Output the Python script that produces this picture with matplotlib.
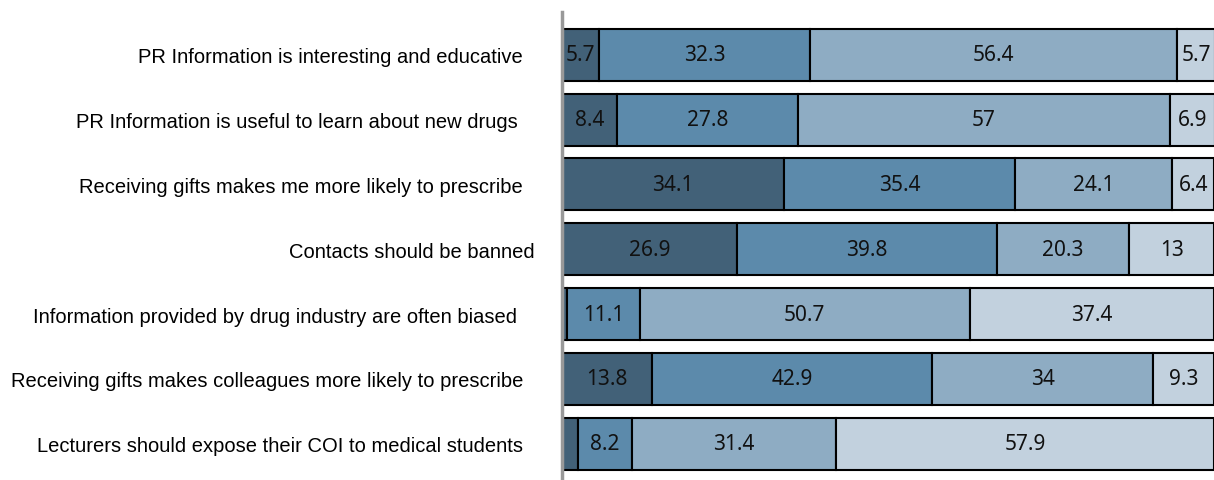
import matplotlib
matplotlib.use("Agg")
import matplotlib.pyplot as plt
import numpy as np

categories = [
    "PR Information is interesting and educative  ",
    "PR Information is useful to learn about new drugs   ",
    "Receiving gifts makes me more likely to prescribe  ",
    "Contacts should be banned",
    "Information provided by drug industry are often biased   ",
    "Receiving gifts makes colleagues more likely to prescribe  ",
    "Lecturers should expose their COI to medical students  ",
]
s1 = [5.7, 8.4, 34.1, 26.9, 0.8, 13.8, 2.5]
s2 = [32.3, 27.8, 35.4, 39.8, 11.1, 42.9, 8.2]
s3 = [56.4, 57.0, 24.1, 20.3, 50.7, 34.0, 31.4]
s4 = [5.7, 6.9, 6.4, 13.0, 37.4, 9.3, 57.9]
series = [s1, s2, s3, s4]
colors = ["#426178", "#5c8aab", "#8eacc3", "#c2d1de"]

fig = plt.figure(figsize=(12.14, 4.81), dpi=100)
ax = fig.add_axes([562/1214, 0, 1 - 562/1214, 1 - 13/481])

y = np.arange(len(categories))
left = np.zeros(len(categories))
for vals, c in zip(series, colors):
    vals = np.array(vals)
    ax.barh(y, vals, left=left, height=0.8, color=c, edgecolor="black", linewidth=1.5)
    for yi, l, v in zip(y, left, vals):
        if v >= 4:
            ax.text(l + v / 2, yi, f"{v:g}", ha="center", va="center", fontsize=15,
                    family=["Noto Sans", "DejaVu Sans"], color="#111111")
    left += vals

ax.set_xlim(0, 100)
ax.set_ylim(6.56, -0.66)
ax.set_yticks(y)
ax.set_yticklabels(categories, fontsize=14.5, family=["Liberation Sans", "DejaVu Sans"])
ax.tick_params(axis="y", length=0, pad=20)
ax.set_xticks([])
for s in ["top", "right", "bottom"]:
    ax.spines[s].set_visible(False)
ax.spines["left"].set_color("#999999")
ax.spines["left"].set_linewidth(2.5)

fig.savefig("out.png", dpi=100)
